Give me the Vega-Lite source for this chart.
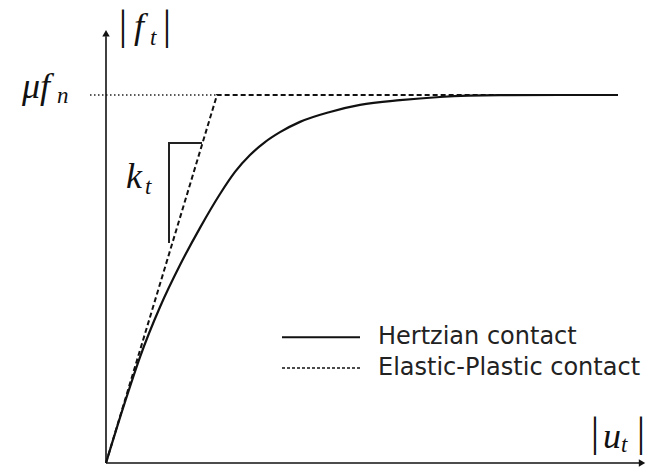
{
  "$schema": "https://vega.github.io/schema/vega-lite/v6.json",
  "width": 648,
  "height": 468,
  "padding": 0,
  "autosize": "none",
  "background": "white",
  "config": {"view": {"stroke": null}},
  "datasets": {
    "limit": [{"u": -0.032, "f": 1, "i": 0}, {"u": 0.222, "f": 1, "i": 1}],
    "elasticPlastic": [
      {"u": 0, "f": 0, "i": 0},
      {"u": 0.222, "f": 1, "i": 1},
      {"u": 1.024, "f": 1, "i": 2}
    ],
    "hertzian": [
      {"u": 0, "f": 0},
      {"u": 0.038, "f": 0.166},
      {"u": 0.068, "f": 0.288},
      {"u": 0.108, "f": 0.424},
      {"u": 0.148, "f": 0.538},
      {"u": 0.188, "f": 0.639},
      {"u": 0.228, "f": 0.731},
      {"u": 0.258, "f": 0.791},
      {"u": 0.288, "f": 0.837},
      {"u": 0.318, "f": 0.872},
      {"u": 0.348, "f": 0.899},
      {"u": 0.388, "f": 0.927},
      {"u": 0.448, "f": 0.954},
      {"u": 0.508, "f": 0.973},
      {"u": 0.588, "f": 0.986},
      {"u": 0.668, "f": 0.9946},
      {"u": 0.788, "f": 0.9995},
      {"u": 0.908, "f": 1.0},
      {"u": 1.024, "f": 1.0}
    ],
    "slope": [
      {"u": 0.126, "f": 0.598, "i": 0},
      {"u": 0.126, "f": 0.8696, "i": 1},
      {"u": 0.192, "f": 0.8696, "i": 2}
    ],
    "axes": [
      {"u": 0, "f": 0, "u2": 1.07, "f2": 0},
      {"u": 0, "f": 0, "u2": 0, "f2": 1.16}
    ],
    "arrows": [
      {"u": 1.072, "f": 0, "dir": "right"},
      {"u": 0, "f": 1.168, "dir": "up"}
    ],
    "mathMain": [
      {"u": 0.056, "f": 1.155, "t": "f"},
      {"u": -0.168, "f": 0.992, "t": "μf"},
      {"u": 0.994, "f": 0.041, "t": "u"},
      {"u": 0.04, "f": 0.747, "t": "k"}
    ],
    "mathSub": [
      {"u": 0.088, "f": 1.136, "t": "t"},
      {"u": -0.098, "f": 0.978, "t": "n"},
      {"u": 1.03, "f": 0.03, "t": "t"},
      {"u": 0.078, "f": 0.73, "t": "t"}
    ],
    "bars": [
      {"u": 0.034, "f": 1.152},
      {"u": 0.122, "f": 1.152},
      {"u": 0.978, "f": 0.045},
      {"u": 1.07, "f": 0.045}
    ],
    "legendText": [
      {"u": 0.544, "f": 0.342, "t": "Hertzian contact"},
      {"u": 0.544, "f": 0.258, "t": "Elastic-Plastic contact"}
    ],
    "legendSolid": [{"u": 0.352, "u2": 0.508, "f": 0.342}],
    "legendDashed": [{"u": 0.352, "u2": 0.508, "f": 0.258}]
  },
  "encoding": {
    "x": {"field": "u", "type": "quantitative", "axis": null,
          "scale": {"domain": [-0.212, 1.084], "nice": false, "zero": false}},
    "y": {"field": "f", "type": "quantitative", "axis": null,
          "scale": {"domain": [-0.0136, 1.2582], "nice": false, "zero": false}}
  },
  "layer": [
    {
      "data": {"name": "limit"},
      "mark": {"type": "line", "color": "#222", "strokeWidth": 1.4, "strokeDash": [1.5, 2.5]},
      "encoding": {"order": {"field": "i"}}
    },
    {
      "data": {"name": "elasticPlastic"},
      "mark": {"type": "line", "color": "#111", "strokeWidth": 2, "strokeDash": [5, 3]},
      "encoding": {"order": {"field": "i"}}
    },
    {
      "data": {"name": "hertzian"},
      "mark": {"type": "line", "color": "#111", "strokeWidth": 2.2, "interpolate": "monotone"}
    },
    {
      "data": {"name": "slope"},
      "mark": {"type": "line", "color": "#222", "strokeWidth": 2},
      "encoding": {"order": {"field": "i"}}
    },
    {
      "data": {"name": "axes"},
      "mark": {"type": "rule", "color": "#111", "strokeWidth": 1.6},
      "encoding": {"x2": {"field": "u2"}, "y2": {"field": "f2"}}
    },
    {
      "data": {"name": "arrows"},
      "mark": {"type": "point", "filled": true, "color": "#111", "size": 55, "opacity": 1},
      "encoding": {
        "shape": {"field": "dir", "type": "nominal", "legend": null,
                  "scale": {"domain": ["right", "up"], "range": ["triangle-right", "triangle-up"]}}
      }
    },
    {
      "data": {"name": "mathMain"},
      "mark": {"type": "text", "font": "Liberation Serif", "fontStyle": "italic", "fontSize": 36,
               "align": "left", "baseline": "alphabetic", "color": "#111"},
      "encoding": {"text": {"field": "t"}}
    },
    {
      "data": {"name": "mathSub"},
      "mark": {"type": "text", "font": "Liberation Serif", "fontStyle": "italic", "fontSize": 23,
               "align": "left", "baseline": "alphabetic", "color": "#111"},
      "encoding": {"text": {"field": "t"}}
    },
    {
      "data": {"name": "bars"},
      "mark": {"type": "text", "font": "Liberation Serif", "fontSize": 42, "align": "center",
               "baseline": "alphabetic", "color": "#111", "text": "|"}
    },
    {
      "data": {"name": "legendSolid"},
      "mark": {"type": "rule", "color": "#111", "strokeWidth": 2},
      "encoding": {"x2": {"field": "u2"}}
    },
    {
      "data": {"name": "legendDashed"},
      "mark": {"type": "rule", "color": "#111", "strokeWidth": 1.5, "strokeDash": [3, 2]},
      "encoding": {"x2": {"field": "u2"}}
    },
    {
      "data": {"name": "legendText"},
      "mark": {"type": "text", "font": "DejaVu Sans", "fontSize": 24, "align": "left",
               "baseline": "middle", "color": "#222"},
      "encoding": {"text": {"field": "t"}}
    }
  ]
}
